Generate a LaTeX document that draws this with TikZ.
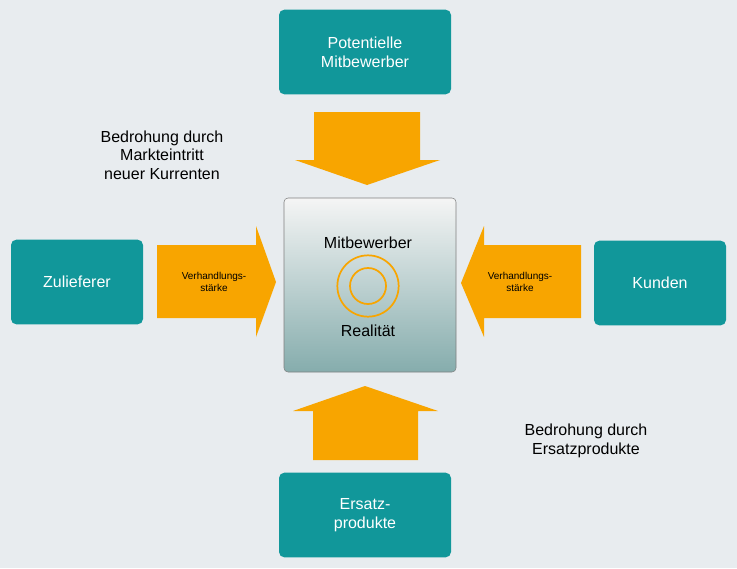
\documentclass[tikz,border=0pt]{standalone}
\usepackage{fontspec}
\setmainfont{Liberation Sans}
\definecolor{teal1}{HTML}{11979A}
\definecolor{orange1}{HTML}{F8A500}
\definecolor{bggray}{HTML}{E8ECEF}
\tikzset{>=latex}

\begin{document}
\begin{tikzpicture}[x=0.75pt,y=-0.75pt]

	\tikzstyle{force_box} = [rectangle, rounded corners=4pt, fill=teal1, text=white, font=\fontsize{12}{14}\selectfont, align=center, minimum width=129pt, minimum height=63.5pt]
	\tikzstyle{force_arrow} = [fill=orange1]
	\tikzstyle{plain_text} = [align=center, font=\fontsize{12}{14}\selectfont]
	\tikzstyle{small_text} = [align=center, font=\fontsize{7.5}{9}\selectfont]

%------------------------------------------------------------
	\fill[bggray] (0,0) rectangle (737,568);
	\useasboundingbox (0,0) rectangle (737,568);

	\node[force_box] (entrants) at (365,52) {Potentielle\\Mitbewerber};
	\node[force_box, minimum width=99pt] (suppliers) at (77,282) {Zulieferer};
	\node[force_box, minimum width=99pt] (buyers) at (660,283) {Kunden};
	\node[force_box] (substitutes) at (365,515) {Ersatz-\\produkte};

%------------------------------------------------------------

	\shade[top color=white!92!gray, bottom color=gray!45!cyan!35!gray!80, draw=gray, rounded corners=3pt] (284,198) rectangle (456,372);
	\node[plain_text] (rivals) at (368,243) {Mitbewerber};
	\node[plain_text] (reality) at (368,331) {Realität};
	\draw[orange1, line width=1.3pt] (368,286) circle (23pt) (368,286) circle (13.5pt);

%------------------------------------------------------------

	\fill[force_arrow] (314,112) -- (420,112) -- (420,160) -- (440,160) -- (367,185) -- (295,160) -- (314,160) -- cycle;
	\fill[force_arrow] (313,460) -- (418,460) -- (418,411) -- (438,411) -- (365,386) -- (293,411) -- (313,411) -- cycle;
	\fill[force_arrow] (157,245) -- (256,245) -- (256,226) -- (276,282) -- (256,337) -- (256,318) -- (157,318) -- cycle;
	\fill[force_arrow] (581,245) -- (484,245) -- (484,226) -- (461,283) -- (484,337) -- (484,318) -- (581,318) -- cycle;

%------------------------------------------------------------

	\node[small_text] (power_s) at (214,282) {Verhandlungs-\\stärke};
	\node[small_text] (power_b) at (520,282) {Verhandlungs-\\stärke};
	\node[plain_text] (threat_new) at (162,155) {Bedrohung durch\\Markteintritt\\neuer Kurrenten};
	\node[plain_text] (threat_sub) at (586,441) {Bedrohung durch\\Ersatzprodukte};

\end{tikzpicture}
\end{document}
